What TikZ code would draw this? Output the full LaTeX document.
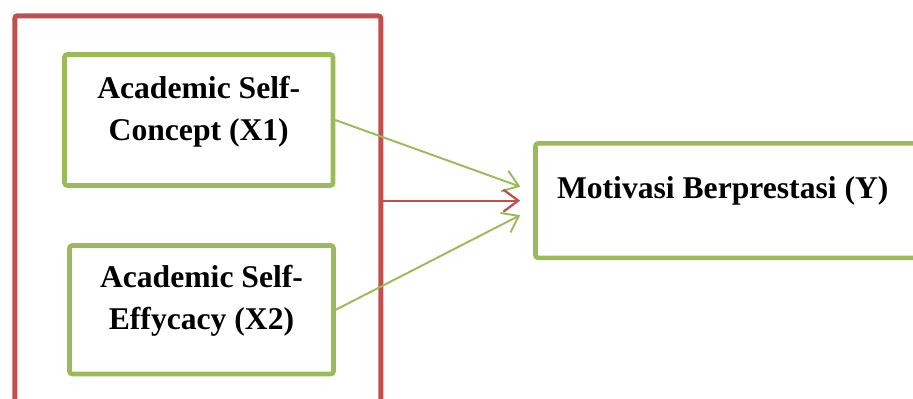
\documentclass[tikz,border=0pt]{standalone}
\usepackage{fontspec}
\setmainfont{Liberation Serif}
\usetikzlibrary{
arrows.meta,
calc,
positioning
}
\definecolor{boxred}{HTML}{C0504D}
\definecolor{boxgreen}{HTML}{9BBB59}
\tikzset{>={Straight Barb[length=8.5pt,width=12.5pt]}}
\newcommand{\boxtext}[4]{\parbox[c][#1][t]{#2}{\vspace*{#3}#4}}

\begin{document}
\begin{tikzpicture}[
		redbox/.style={draw=boxred, line width=2.8pt, rounded corners=1.5pt},
		greenbox/.style={draw=boxgreen, line width=2.6pt, rounded corners=1.5pt, inner sep=0pt, font=\bfseries\fontsize{18}{24}\selectfont},
		greenarrow/.style={->, draw=boxgreen, line width=1.1pt},
		redarrow/.style={->, draw=boxred, line width=1.3pt}]
		\useasboundingbox (0,0) rectangle (18.26,7.96);
		\clip (0,0) rectangle (18.26,7.96);
		
		\node[redbox, minimum width=7.32cm, minimum height=8.5cm] (predictors) at (3.956,3.394) {};
		\node[greenbox] (selfconcept) at (3.975,5.56)  {\boxtext{2.62cm}{5.37cm}{0.43cm}{\centering Academic Self-\\Concept (X1)}};
		\node[greenbox] (selfefficacy) at (4.03,1.765) {\boxtext{2.57cm}{5.28cm}{0.39cm}{\centering Academic Self-\\Effycacy (X2)}};
		\node[greenbox, inner xsep=0.43cm] (motivation) at (14.655,3.947) {\boxtext{2.29cm}{7.03cm}{0.66cm}{\raggedright Motivasi Berprestasi (Y)}};
		
		\coordinate (tipconcept)  at ($(motivation.west)+(-0.26,0.28)$);
		\coordinate (tipgroup)    at ($(motivation.west)+(-0.26,0)$);
		\coordinate (tipefficacy) at ($(motivation.west)+(-0.26,-0.29)$);
		
		\draw[greenarrow] (selfconcept.east) -- (tipconcept);
		\draw[redarrow] (predictors.east |- tipgroup) -- (tipgroup);
		\draw[greenarrow] (selfefficacy.east) -- (tipefficacy);
	\end{tikzpicture}
\end{document}
